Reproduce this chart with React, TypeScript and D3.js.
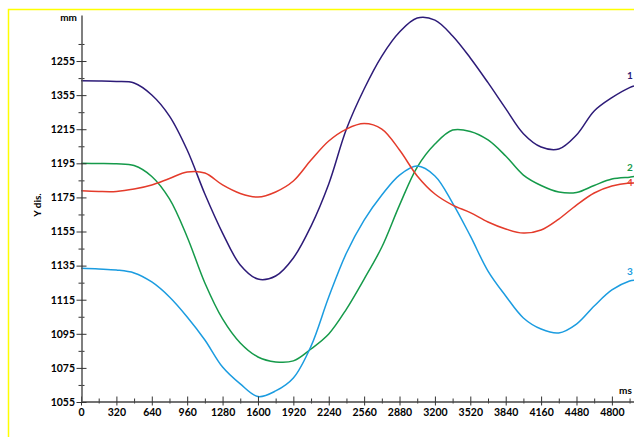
import React, { useEffect, useRef } from 'react';
import * as d3 from 'd3';

const width = 634;
const height = 437;

// time in ms
const times = [
  0, 160, 320, 480, 640, 800, 960, 1120, 1280, 1440, 1600, 1760, 1920, 2080, 2240, 2400,
  2560, 2720, 2880, 3040, 3200, 3360, 3520, 3680, 3840, 4000, 4160, 4320, 4480, 4640, 4800, 4960, 5000,
];

// Y displacement (mm) per marker
const dis1 = [
  1243.4, 1243.3, 1243.0, 1242.1, 1235.1, 1222.7, 1202.8, 1177.0, 1154.1, 1135.4, 1127.1, 1128.9,
  1139.5, 1158.2, 1182.9, 1215.1, 1238.6, 1257.9, 1272.0, 1280.2, 1279.0, 1269.7, 1256.8, 1242.3,
  1227.1, 1212.4, 1204.6, 1203.4, 1211.6, 1225.7, 1233.5, 1239.4, 1240.3,
];
const dis2 = [
  1195.0, 1194.9, 1194.7, 1193.7, 1187.3, 1174.1, 1151.8, 1124.8, 1103.7, 1089.6, 1081.4, 1078.5,
  1079.1, 1086.1, 1094.9, 1109.5, 1127.1, 1145.9, 1170.5, 1192.8, 1206.3, 1214.5, 1213.7, 1208.7,
  1199.3, 1188.1, 1182.0, 1178.2, 1177.9, 1182.0, 1185.8, 1186.9, 1187.2,
];
const dis3 = [
  1133.4, 1133.0, 1132.4, 1130.7, 1125.4, 1116.6, 1104.9, 1091.4, 1075.5, 1065.6, 1058.2, 1061.5,
  1069.1, 1087.8, 1116.6, 1142.4, 1161.7, 1176.4, 1188.1, 1193.4, 1187.6, 1171.7, 1152.4, 1131.8,
  1117.2, 1104.3, 1097.8, 1095.5, 1100.7, 1111.3, 1120.7, 1126.0, 1126.4,
];
const dis4 = [
  1178.9, 1178.5, 1178.5, 1179.9, 1182.3, 1186.1, 1189.9, 1189.3, 1182.3, 1177.3, 1175.2, 1178.2,
  1184.6, 1196.9, 1208.1, 1215.1, 1218.3, 1215.1, 1202.8, 1187.6, 1177.0, 1170.5, 1166.1, 1160.6,
  1156.5, 1154.1, 1155.9, 1162.3, 1170.5, 1177.6, 1181.7, 1183.4, 1183.4,
];

const yTicks = [1055, 1075, 1095, 1115, 1135, 1155, 1175, 1195, 1215, 1235, 1255];
const yTickLabels = ['1055', '1075', '1095', '1115', '1135', '1155', '1175', '1195', '1215', '1355', '1255'];
const yMinor = [1065, 1085, 1105, 1125, 1145, 1165, 1185, 1205, 1225, 1245, 1265];
const xTicks = [0, 320, 640, 960, 1280, 1600, 1920, 2240, 2560, 2880, 3200, 3520, 3840, 4160, 4480, 4800];
const xMinor = [160, 480, 800, 1120, 1440, 1760, 2080, 2400, 2720, 3040, 3360, 3680, 4000, 4320, 4640, 4960];

const series = [
  { name: '1', values: dis1, color: '#2d1b78', dy: -7 },
  { name: '2', values: dis2, color: '#159a4a', dy: -6 },
  { name: '3', values: dis3, color: '#1b9ce0', dy: -5 },
  { name: '4', values: dis4, color: '#e43b2b', dy: 3 },
];

const font = 'Lato, "DejaVu Sans", sans-serif';

export default function App() {
  const xAxisRef = useRef<SVGGElement>(null);
  const yAxisRef = useRef<SVGGElement>(null);

  const x = d3.scaleLinear().domain([0, 5000]).range([81, 634]);
  const y = d3.scaleLinear().domain([1055, 1282]).range([402, 15]);

  const line = (vals: number[]) =>
    d3.line<number>()
      .x((d, i) => x(times[i]))
      .y(d => y(d))
      .curve(d3.curveCatmullRom.alpha(0.5))(vals) || '';

  useEffect(() => {
    const gx = d3.select(xAxisRef.current);
    gx.selectAll('*').remove();
    gx.append('g').call(d3.axisBottom(x).tickValues(xMinor).tickFormat(() => '').tickSizeOuter(0))
      .call(g => g.select('.domain').remove())
      .call(g => g.selectAll('.tick line').attr('y1', -3).attr('y2', 2).attr('stroke', '#333'));
    gx.append('g').call(d3.axisBottom(x).tickValues(xTicks).tickFormat(d3.format('d')).tickSizeOuter(0))
      .call(g => g.select('.domain').attr('stroke', '#444').attr('stroke-width', 1.3))
      .call(g => g.selectAll('.tick line').attr('y1', -5).attr('y2', 4).attr('stroke', '#333'))
      .call(g => g.selectAll('.tick text').attr('y', 7).attr('fill', '#000')
        .style('font-family', font).style('font-size', '10.5px').style('font-weight', 'bold'));

    const gy = d3.select(yAxisRef.current);
    gy.selectAll('*').remove();
    gy.append('g').call(d3.axisLeft(y).tickValues(yMinor).tickFormat(() => '').tickSizeOuter(0))
      .call(g => g.select('.domain').remove())
      .call(g => g.selectAll('.tick line').attr('x1', -3).attr('x2', 3).attr('stroke', '#333'));
    gy.append('g').call(d3.axisLeft(y).tickValues(yTicks).tickFormat((d, i) => yTickLabels[i]).tickSizeOuter(0))
      .call(g => g.select('.domain').attr('stroke', '#555').attr('stroke-width', 1.5))
      .call(g => g.selectAll('.tick line').attr('x1', -5).attr('x2', 5).attr('stroke', '#333'))
      .call(g => g.selectAll('.tick text').attr('x', -6.5).attr('fill', '#000')
        .style('font-family', font).style('font-size', '10.5px').style('font-weight', 'bold'));
  });

  return (
    <div>
      <style>{'body{margin:0;overflow:hidden}'}</style>
      <svg width={width} height={height} style={{ display: 'block', background: '#fff' }}>
        <rect x={8.5} y={9.5} width={700} height={600} fill="none" stroke="#ffff00" strokeWidth={1.5} />
        {series.map(s => (
          <path key={s.name} d={line(s.values)} fill="none" stroke={s.color} strokeWidth={1.5} />
        ))}
        {series.map(s => (
          <text key={'l' + s.name} x={627} y={y(s.values[s.values.length - 1]) + s.dy}
            fill={s.color} fontFamily={font} fontSize={10} fontWeight="bold">{s.name}</text>
        ))}
        <g ref={xAxisRef} transform="translate(0, 401.5)" />
        <g ref={yAxisRef} transform="translate(81.5, 0)" />
        <text x={77} y={18} textAnchor="end" dominantBaseline="middle" fontFamily={font}
          fontSize={10} fontWeight="bold">mm</text>
        <text x={619} y={391} dominantBaseline="middle" fontFamily={font}
          fontSize={10} fontWeight="bold">ms</text>
        <text transform="translate(38, 205) rotate(-90)" textAnchor="middle" dominantBaseline="middle"
          fontFamily={font} fontSize={10} fontWeight="bold">Y dis.</text>
      </svg>
    </div>
  );
}
